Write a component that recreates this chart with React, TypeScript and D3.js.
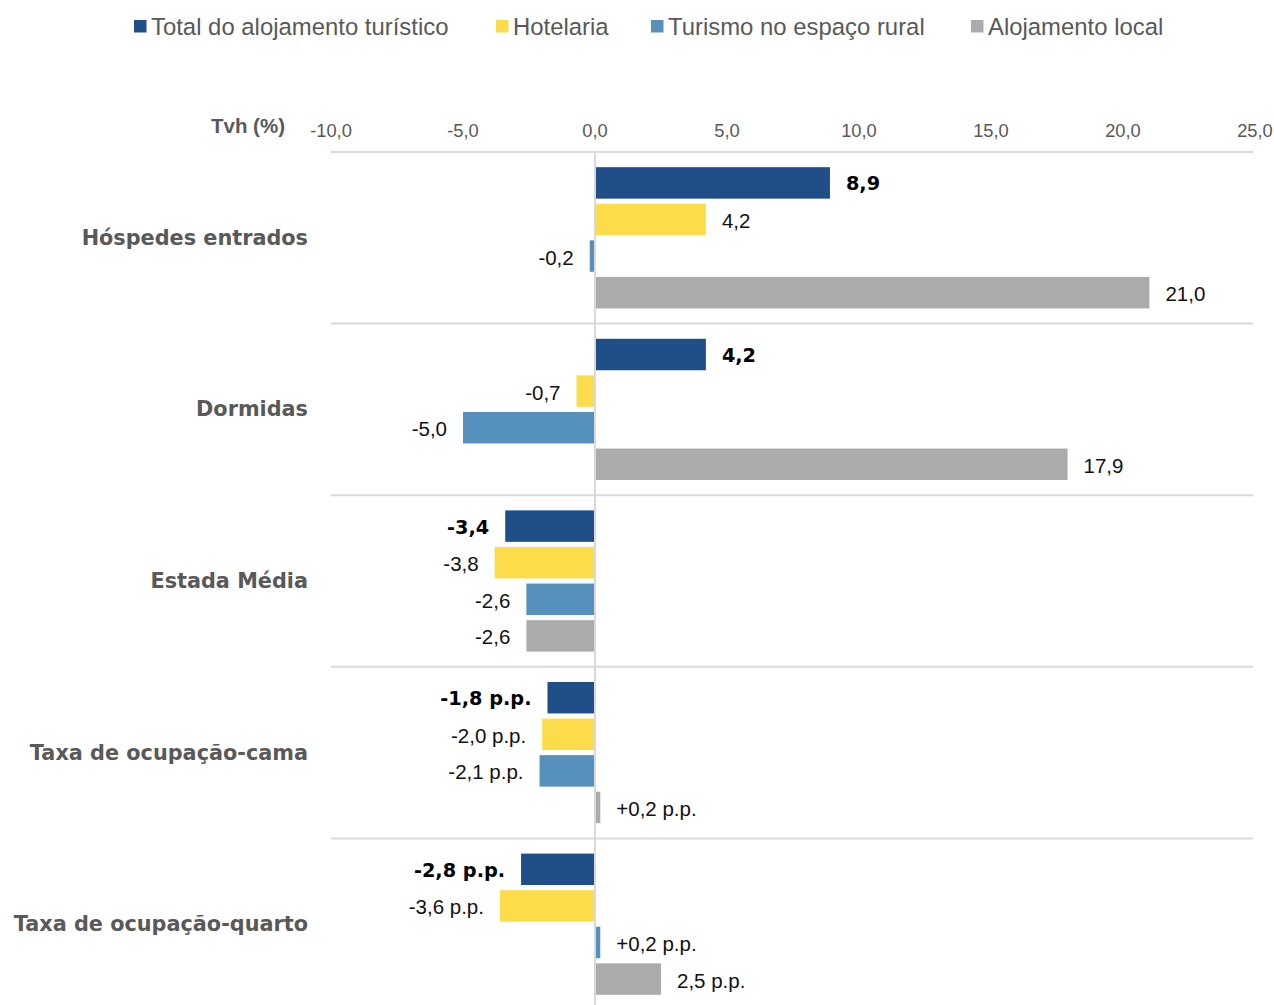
import React from "react";
import * as d3 from "d3";

const categories = [
  "Hóspedes entrados",
  "Dormidas",
  "Estada Média",
  "Taxa de ocupação-cama",
  "Taxa de ocupação-quarto",
];
const seriesNames = [
  "Total do alojamento turístico",
  "Hotelaria",
  "Turismo no espaço rural",
  "Alojamento local",
];
const seriesColors = ["#1F4E89", "#FCDC4B", "#5690BC", "#ABABAB"];

// values per category, in series order
const totalValues = [8.9, 4.2, -3.4, -1.8, -2.8];
const hotelariaValues = [4.2, -0.7, -3.8, -2.0, -3.6];
const ruralValues = [-0.2, -5.0, -2.6, -2.1, 0.2];
const localValues = [21.0, 17.9, -2.6, 0.2, 2.5];

const totalLabels = ["8,9", "4,2", "-3,4", "-1,8 p.p.", "-2,8 p.p."];
const hotelariaLabels = ["4,2", "-0,7", "-3,8", "-2,0 p.p.", "-3,6 p.p."];
const ruralLabels = ["-0,2", "-5,0", "-2,6", "-2,1 p.p.", "+0,2 p.p."];
const localLabels = ["21,0", "17,9", "-2,6", "+0,2 p.p.", "2,5 p.p."];

const tickValues = [-10, -5, 0, 5, 10, 15, 20, 25];
const axisTitle = "Tvh (%)";

const W = 1274;
const H = 1005;

export default function App() {
  const seriesValues = [totalValues, hotelariaValues, ruralValues, localValues];
  const seriesLabels = [totalLabels, hotelariaLabels, ruralLabels, localLabels];

  const x = d3.scaleLinear().domain([-10, 25]).range([331, 1255]);
  const y0 = d3
    .scaleBand<string>()
    .domain(categories)
    .range([152, 152 + 171.6 * categories.length])
    .padding(0);
  const y1 = d3
    .scaleBand<number>()
    .domain(d3.range(seriesNames.length))
    .range([0, y0.bandwidth()])
    .paddingInner(0.14)
    .paddingOuter(0.415);

  const fmt = (v: number) =>
    d3.format(".1f")(v).replace(".", ",").replace("\u2212", "-");
  const legendX = [134, 496, 651, 971];

  return (
    <svg
      width={W}
      height={H}
      style={{ position: "absolute", left: 0, top: 0, display: "block", background: "#fff" }}
    >
      {/* Legend */}
      {seriesNames.map((name, i) => (
        <g key={name} transform={`translate(${legendX[i]},0)`}>
          <rect x={0} y={20} width={12.5} height={12.5} fill={seriesColors[i]} />
          <text
            x={17}
            y={26.5}
            dominantBaseline="central"
            fontFamily="'Liberation Sans', Arial, sans-serif"
            fontSize={23.9}
            fill="#595959"
          >
            {name}
          </text>
        </g>
      ))}

      {/* Axis title */}
      <text
        x={285}
        y={125}
        textAnchor="end"
        dominantBaseline="central"
        fontFamily="'Liberation Sans', Arial, sans-serif"
        fontWeight="bold"
        fontSize={20.5}
        fill="#595959"
      >
        {axisTitle}
      </text>

      {/* Tick labels */}
      {tickValues.map((t) => (
        <text
          key={t}
          x={x(t)}
          y={130}
          textAnchor="middle"
          dominantBaseline="central"
          fontFamily="'Liberation Sans', Arial, sans-serif"
          fontSize={18.3}
          fill="#595959"
        >
          {fmt(t)}
        </text>
      ))}

      {/* Horizontal separators */}
      {categories.map((c) => (
        <line
          key={"sep" + c}
          x1={x(-10)}
          x2={1253}
          y1={y0(c)!}
          y2={y0(c)!}
          stroke="#D9D9D9"
          strokeWidth={2}
        />
      ))}

      {/* Bars */}
      {categories.map((c, ci) => (
        <g key={c} transform={`translate(0,${y0(c)})`}>
          {seriesValues.map((vals, si) => {
            const v = vals[ci];
            const yy = y1(si)!;
            const bx = Math.min(x(0), x(v));
            const bw = Math.abs(x(v) - x(0));
            return (
              <rect
                key={si}
                x={bx}
                y={yy}
                width={bw}
                height={y1.bandwidth()}
                fill={seriesColors[si]}
              />
            );
          })}
        </g>
      ))}

      {/* Zero line */}
      <line x1={x(0)} x2={x(0)} y1={152} y2={H} stroke="#D9D9D9" strokeWidth={2} />

      {/* Value labels */}
      {categories.map((c, ci) => (
        <g key={"lbl" + c} transform={`translate(0,${y0(c)})`}>
          {seriesValues.map((vals, si) => {
            const v = vals[ci];
            const yy = y1(si)! + y1.bandwidth() / 2;
            const pos = v >= 0;
            const bold = si === 0;
            return (
              <text
                key={si}
                x={pos ? x(v) + 16 : x(v) - 16}
                y={yy + 1}
                textAnchor={pos ? "start" : "end"}
                dominantBaseline="central"
                fontFamily={bold ? "'DejaVu Sans', sans-serif" : "'Liberation Sans', Arial, sans-serif"}
                fontWeight={bold ? "bold" : "normal"}
                fontSize={bold ? 19.3 : 20.5}
                fill={bold ? "#000" : "#111"}
              >
                {seriesLabels[si][ci]}
              </text>
            );
          })}
        </g>
      ))}

      {/* Category labels */}
      {categories.map((c) => (
        <text
          key={"cat" + c}
          x={308}
          y={y0(c)! + y0.bandwidth() / 2}
          textAnchor="end"
          dominantBaseline="central"
          fontFamily="'DejaVu Sans', sans-serif"
          fontWeight="bold"
          fontSize={20.8}
          fill="#595959"
        >
          {c}
        </text>
      ))}
    </svg>
  );
}
